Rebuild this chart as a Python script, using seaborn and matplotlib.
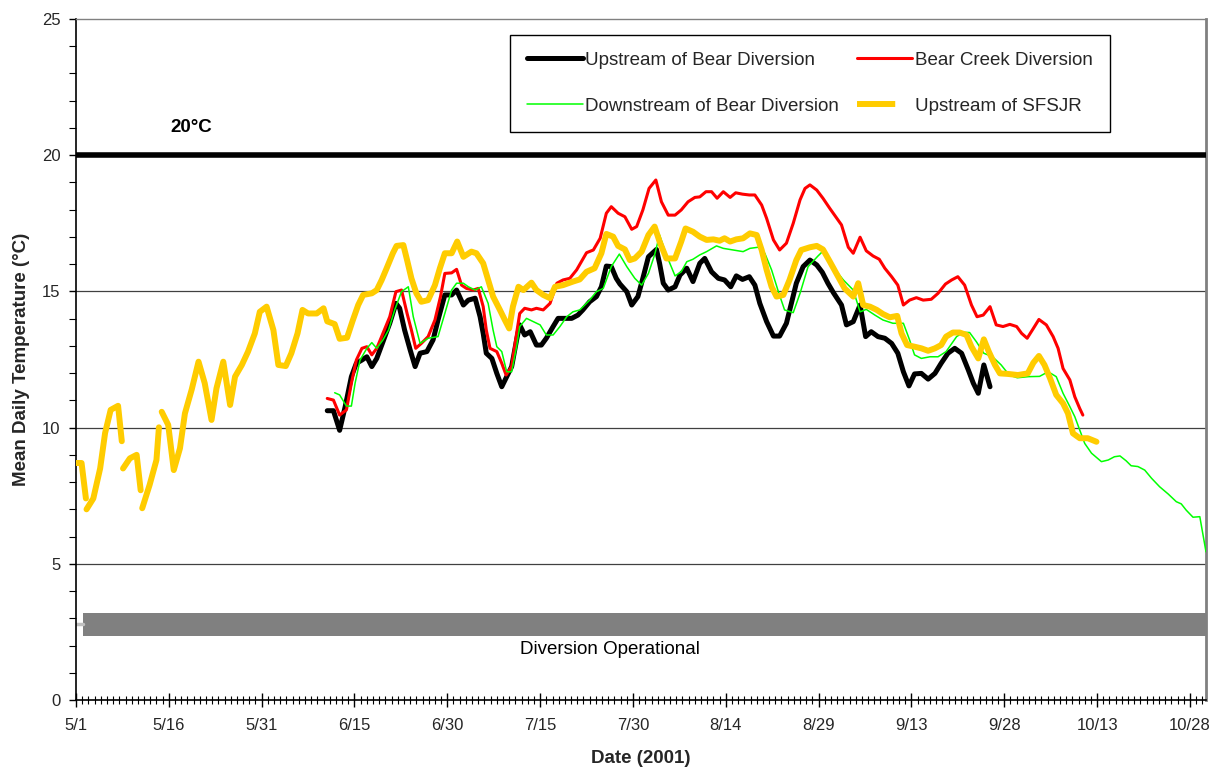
import numpy as np
import pandas as pd
import matplotlib
matplotlib.use("Agg")
import matplotlib.pyplot as plt
import seaborn as sns
from matplotlib.lines import Line2D
from matplotlib.ticker import FixedLocator, MultipleLocator

# ---------------- data (day offsets from 5/1/2001) ----------------
tick_days = [0, 15, 30, 45, 60, 75, 90, 105, 120, 135, 150, 165, 180]
tick_labels = ["5/1", "5/16", "5/31", "6/15", "6/30", "7/15", "7/30",
               "8/14", "8/29", "9/13", "9/28", "10/13", "10/28"]

up_bear_days = [40.6, 41.6, 42.6, 43.5, 44.5, 45.3, 46.2, 47.0, 47.8, 48.6, 49.6, 50.7, 51.7, 52.3,
                53.1, 54.0, 54.8, 55.6, 56.7, 57.7, 58.5, 59.6, 60.7, 61.5, 62.6, 63.4, 64.5, 65.3,
                65.8, 66.3, 67.2, 68.0, 68.8, 69.6, 70.4, 71.2, 71.7, 72.5, 73.4, 74.4, 75.2, 76.0,
                77.1, 77.9, 79.0, 80.1, 81.1, 81.9, 83.0, 84.1, 84.9, 85.7, 86.5, 87.3, 87.9, 89.0,
                89.8, 90.8, 91.6, 92.5, 93.8, 94.3, 94.9, 95.7, 96.8, 97.6, 98.7, 99.7, 100.8, 101.6,
                102.7, 103.8, 104.8, 105.8, 106.7, 107.7, 108.8, 109.7, 110.5, 111.6, 112.7, 113.7,
                114.8, 115.6, 116.4, 117.5, 118.6, 119.7, 120.6, 121.5, 122.4, 123.7, 124.5, 125.6,
                126.7, 127.6, 128.5, 129.6, 130.7, 131.8, 132.8, 133.7, 134.6, 135.5, 136.6, 137.7,
                138.8, 139.8, 140.9, 142.0, 143.1, 144.2, 145.0, 145.8, 146.7, 147.7]
up_bear_temp = [10.62, 10.62, 9.9, 10.77, 11.87, 12.36, 12.48, 12.60, 12.24, 12.54, 13.15, 13.83, 14.56, 14.38,
                13.58, 12.85, 12.24, 12.73, 12.79, 13.22, 13.95, 14.87, 14.87, 15.05, 14.50, 14.68, 14.75, 14.07,
                13.46, 12.73, 12.54, 11.99, 11.50, 11.87, 12.24, 13.22, 13.77, 13.40, 13.52, 13.03, 13.03, 13.28,
                13.71, 14.01, 14.01, 14.01, 14.13, 14.32, 14.62, 14.81, 15.17, 15.93, 15.91, 15.48, 15.27, 14.99,
                14.50, 14.81, 15.48, 16.27, 16.54, 16.03, 15.30, 15.05, 15.17, 15.60, 15.85, 15.36, 16.03, 16.21,
                15.72, 15.48, 15.42, 15.17, 15.57, 15.44, 15.54, 15.23, 14.56, 13.89, 13.36, 13.36,
                13.83, 14.56, 15.30, 15.91, 16.15, 15.97, 15.70, 15.30, 14.95, 14.50, 13.77, 13.89,
                14.50, 13.34, 13.52, 13.34, 13.28, 13.09, 12.73, 12.05, 11.53, 11.97, 11.99, 11.78,
                11.99, 12.36, 12.73, 12.91, 12.73, 12.11, 11.63, 11.26, 12.30, 11.50]

bear_creek_days = [40.6, 41.6, 42.6, 43.7, 44.5, 45.3, 46.2, 47.0, 47.8, 48.6, 49.6, 50.7, 51.7, 52.6,
                   53.5, 54.2, 54.9, 55.8, 56.9, 58.0, 58.9, 59.6, 60.7, 61.5, 62.3, 63.1, 64.2, 65.0,
                   65.8, 66.3, 66.9, 68.0, 68.8, 69.5, 70.4, 71.2, 71.7, 72.5, 73.6, 74.4, 75.5, 76.6,
                   77.7, 78.7, 79.8, 80.9, 82.5, 83.6, 84.7, 85.7, 86.5, 87.6, 88.7, 89.8, 90.6, 91.6,
                   92.6, 93.7, 94.6, 95.7, 96.8, 97.8, 98.9, 100.0, 100.8, 101.8, 102.7, 103.6, 104.6,
                   105.7, 106.6, 107.7, 108.8, 109.7, 110.8, 111.6, 112.7, 113.7, 114.8, 115.9, 117.0,
                   117.8, 118.6, 119.7, 120.7, 121.8, 123.7, 124.8, 125.6, 126.7, 127.7, 128.8, 129.8,
                   130.7, 131.8, 132.8, 133.7, 134.7, 135.8, 136.9, 138.2, 139.3, 140.5, 141.5, 142.5,
                   143.6, 144.7, 145.6, 146.6, 147.7, 148.7, 149.8, 150.9, 152.0, 152.8, 153.7, 154.7,
                   155.6, 156.8, 157.9, 158.7, 159.5, 160.6, 161.4, 162.2, 162.7]
bear_creek_temp = [11.07, 11.01, 10.46, 10.65, 11.63, 12.48, 12.91, 12.97, 12.67, 12.91, 13.46, 14.07, 14.99, 15.05,
                   14.19, 13.58, 12.91, 13.09, 13.34, 13.95, 14.81, 15.66, 15.68, 15.81, 15.23, 15.11, 15.05, 15.11,
                   14.44, 13.58, 12.91, 12.79, 12.36, 11.93, 12.24, 13.46, 14.19, 14.38, 14.32, 14.38, 14.32, 14.56,
                   15.30, 15.42, 15.48, 15.79, 16.42, 16.52, 16.95, 17.87, 18.11, 17.87, 17.74, 17.28, 17.38, 17.99,
                   18.78, 19.09, 18.29, 17.80, 17.80, 17.99, 18.29, 18.45, 18.47, 18.66, 18.66, 18.42, 18.66,
                   18.45, 18.62, 18.57, 18.54, 18.54, 18.17, 17.68, 16.89, 16.52, 16.77, 17.50, 18.36,
                   18.78, 18.91, 18.72, 18.42, 18.05, 17.44, 16.62, 16.40, 16.99, 16.49, 16.30, 16.18,
                   15.85, 15.54, 15.23, 14.50, 14.68, 14.77, 14.68, 14.71, 14.93, 15.27, 15.42, 15.54,
                   15.23, 14.50, 14.07, 14.13, 14.44, 13.77, 13.71, 13.79, 13.71, 13.46, 13.28, 13.64,
                   13.97, 13.77, 13.34, 12.91, 12.17, 11.75, 11.13, 10.70, 10.46]

down_bear_days = [41.8, 42.6, 43.7, 44.5, 45.1, 45.9, 47.0, 47.8, 48.6, 49.6, 50.5, 51.5, 52.6, 53.7,
                  54.5, 55.6, 56.9, 57.7, 58.5, 59.6, 60.7, 61.5, 62.6, 63.4, 64.5, 65.5, 66.6, 67.4,
                  68.0, 68.8, 69.6, 70.4, 71.2, 71.7, 72.8, 73.9, 75.0, 76.0, 77.1, 78.2, 79.3, 80.3,
                  81.4, 83.0, 84.1, 85.2, 86.5, 87.8, 89.0, 90.3, 91.4, 92.5, 93.5, 94.3, 95.4, 96.8,
                  97.8, 98.7, 99.7, 100.8, 101.9, 103.5, 104.6, 106.2, 107.8, 108.9, 110.2, 111.3,
                  112.4, 113.5, 114.5, 115.9, 117.0, 118.3, 119.9, 120.8, 122.3, 124.0, 125.6, 126.7,
                  127.7, 129.1, 130.4, 132.0, 133.7, 134.7, 135.5, 136.6, 138.0, 139.3, 140.6, 142.3,
                  143.4, 144.4, 145.5, 146.7, 148.1, 149.5, 150.8, 152.1, 153.9, 155.7, 157.1, 158.4,
                  159.5, 160.6, 161.4, 162.2, 163.0, 164.1, 165.7, 166.8, 167.8, 168.7, 169.7, 170.5,
                  171.6, 172.7, 173.8, 175.1, 176.5, 177.8, 178.6, 179.4, 180.5, 181.6, 182.6]
down_bear_temp = [11.28, 11.20, 10.79, 10.79, 11.63, 12.48, 12.91, 13.12, 12.91, 13.22, 13.58, 14.32, 14.99, 15.17,
                  14.07, 13.09, 13.28, 13.31, 13.34, 14.19, 15.05, 15.30, 15.30, 15.17, 15.05, 15.17, 14.56, 13.58,
                  12.97, 12.79, 12.05, 12.05, 12.97, 13.71, 14.01, 13.89, 13.77, 13.40, 13.40, 13.71, 14.07, 14.25,
                  14.32, 14.68, 14.99, 15.11, 15.91, 16.37, 15.91, 15.48, 15.23, 15.66, 16.34, 17.07, 16.34, 15.57,
                  15.72, 16.09, 16.18, 16.34, 16.46, 16.67, 16.58, 16.52, 16.46, 16.58, 16.62, 16.40,
                  15.79, 14.99, 14.32, 14.22, 14.93, 15.91, 16.30, 16.50, 15.91, 15.42, 15.05, 14.25,
                  14.34, 14.13, 13.95, 13.83, 13.83, 13.22, 12.67, 12.54, 12.60, 12.60, 12.79, 13.34,
                  13.50, 13.49, 13.15, 12.73, 12.60, 12.30, 11.93, 11.83, 11.87, 11.88, 12.05, 11.87,
                  11.26, 10.77, 10.40, 9.91, 9.42, 9.06, 8.75, 8.81, 8.93, 8.96, 8.78, 8.60,
                  8.57, 8.44, 8.14, 7.83, 7.56, 7.28, 7.20, 6.97, 6.71, 6.73, 5.44]

sfsjr_days = [0, 0.9, 1.6,
              1.7, 2.8, 3.9, 4.7, 5.6, 6.8, 7.4,
              7.6, 8.7, 9.8, 10.45,
              10.7, 11.9, 13.0, 13.4,
              13.85, 14.9, 15.8, 16.8, 17.6, 18.7, 19.8, 20.8, 21.9, 22.7, 23.8, 24.9, 25.7, 26.8,
              27.8, 28.9, 29.7, 30.8, 31.9, 32.7, 33.9, 34.8, 35.8, 36.6, 37.5, 38.9, 40.0, 40.6,
              41.8, 42.6, 43.8, 44.7, 45.6, 46.4, 47.8, 48.6, 49.4, 50.2, 51.2, 51.8, 52.9, 53.5,
              54.2, 55.0, 55.8, 56.9, 58.0, 58.8, 59.6, 60.7, 61.6, 62.6, 63.9, 64.7, 65.8, 66.6,
              67.4, 68.5, 69.3, 70.0, 70.6, 71.5, 72.3, 73.6, 74.4, 75.5, 76.6, 77.4, 78.7, 80.3,
              81.4, 82.5, 83.8, 84.9, 85.7, 86.8, 87.6, 88.7, 89.5, 90.3, 91.4, 92.5, 93.5, 94.3,
              95.4, 96.8, 97.8, 98.5, 99.7, 100.8, 101.9, 103.0, 104.0, 104.8, 105.7, 106.7, 107.8,
              108.9, 110.0, 110.8, 111.6, 112.4, 113.2, 114.3, 115.3, 116.4, 117.2, 118.6, 119.7,
              120.7, 121.8, 122.9, 124.2, 125.6, 126.4, 127.2, 128.3, 129.4, 130.4, 131.5, 132.7,
              133.4, 134.3, 135.5, 136.6, 137.7, 138.8, 139.8, 140.6, 141.7, 142.8, 143.9, 144.7,
              145.8, 146.7, 147.5, 148.5, 149.3, 150.6, 152.2, 153.8, 154.7, 155.6, 156.5, 157.4,
              158.4, 159.5, 160.3, 161.1, 162.2, 163.5, 164.9]
sfsjr_temp = [8.7, 8.7, 7.4,
              7.0, 7.4, 8.5, 9.8, 10.65, 10.8, 9.5,
              8.5, 8.87, 9.0, 7.7,
              7.04, 7.9, 8.81, 10.01,
              10.58, 10.1, 8.44, 9.24, 10.52, 11.4, 12.42, 11.63, 10.28, 11.44, 12.42, 10.83, 11.87, 12.30,
              12.79, 13.46, 14.25, 14.44, 13.58, 12.30, 12.26, 12.73, 13.46, 14.32, 14.19, 14.19, 14.38, 13.90,
              13.80, 13.26, 13.30, 13.92, 14.50, 14.87, 14.93, 15.05, 15.42, 15.85, 16.40, 16.67, 16.70, 16.15,
              15.48, 14.93, 14.62, 14.68, 15.23, 15.85, 16.40, 16.40, 16.83, 16.27, 16.46, 16.40, 16.03, 15.42,
              14.81, 14.32, 13.95, 13.64, 14.44, 15.17, 15.05, 15.32, 15.05, 14.87, 14.75, 15.17, 15.23, 15.36,
              15.44, 15.72, 15.85, 16.40, 17.11, 17.01, 16.67, 16.54, 16.15, 16.21, 16.46, 17.07, 17.38, 16.83,
              16.21, 16.21, 16.83, 17.31, 17.19, 17.01, 16.89, 16.91, 16.86, 16.95, 16.83, 16.91, 16.95,
              17.13, 17.07, 16.52, 15.79, 15.17, 14.81, 14.87, 15.42, 16.15, 16.52, 16.62, 16.67,
              16.54, 16.10, 15.65, 15.11, 14.81, 15.30, 14.50, 14.44, 14.32, 14.17, 14.05, 14.10,
              13.46, 13.03, 12.97, 12.91, 12.82, 12.91, 13.03, 13.34, 13.49, 13.49, 13.40, 12.97,
              12.54, 13.24, 12.79, 12.30, 11.99, 11.97, 11.93, 11.99, 12.38, 12.63, 12.30, 11.81,
              11.20, 10.89, 10.52, 9.79, 9.61, 9.61, 9.48]
sfsjr_seg = [0] * 3 + [1] * 7 + [2] * 4 + [3] * 4 + [4] * (len(sfsjr_days) - 18)

threshold = 20
threshold_label = "20°C"
diversion_label = "Diversion Operational"
diversion_start, diversion_end = 1.1, 182.6
diversion_low, diversion_high = 2.35, 3.2

series_names = ["Upstream of Bear Diversion", "Bear Creek Diversion",
                "Downstream of Bear Diversion", "Upstream of SFSJR"]

# ---------------- figure ----------------
sns.set_theme(style="white")
plt.rcParams["font.family"] = ["Liberation Sans", "DejaVu Sans"]

fig = plt.figure(figsize=(12.14, 7.67), dpi=100)
ax = fig.add_axes([76 / 1214, 1 - 700 / 767, (1206 - 76) / 1214, (700 - 19) / 767])

ax.set_xlim(0, 182.6)
ax.set_ylim(0, 25)

# gridlines
for yv in [5, 10, 15]:
    ax.axhline(yv, color="#404040", lw=0.9, zorder=1)

# diversion bar
ax.fill_between([diversion_start, diversion_end], diversion_low, diversion_high,
                color="#808080", lw=0, zorder=2)
ax.plot([0, diversion_start], [(diversion_low + diversion_high) / 2] * 2,
        color="#c0c0c0", lw=2.5, zorder=2)
ax.text(86.3, 1.87, diversion_label, ha="center", va="center",
        fontsize=13.5, color="black")

# threshold
ax.axhline(threshold, color="black", lw=4, zorder=3)
ax.text(18.6, 21.0, threshold_label, ha="center", va="center", fontsize=13.5,
        fontweight="bold", color="black")

colors = ["black", "#FF0000", "#00FF00", "#FFCC00"]
widths = [3.6, 2.2, 1.1, 4.3]

sns.lineplot(x=up_bear_days, y=up_bear_temp, ax=ax, color=colors[0], lw=widths[0],
             estimator=None, sort=False, legend=False, zorder=4)
sns.lineplot(x=bear_creek_days, y=bear_creek_temp, ax=ax, color=colors[1], lw=widths[1],
             estimator=None, sort=False, legend=False, zorder=5)
sns.lineplot(x=down_bear_days, y=down_bear_temp, ax=ax, color=colors[2], lw=widths[2],
             estimator=None, sort=False, legend=False, zorder=6)
df_y = pd.DataFrame({"day": sfsjr_days, "temp": sfsjr_temp, "seg": sfsjr_seg})
sns.lineplot(data=df_y, x="day", y="temp", units="seg", ax=ax, color=colors[3], lw=widths[3],
             estimator=None, sort=False, legend=False, zorder=7)

# axes styling
ax.xaxis.set_major_locator(FixedLocator(tick_days))
ax.set_xticklabels(tick_labels)
ax.xaxis.set_minor_locator(MultipleLocator(1))
ax.yaxis.set_major_locator(MultipleLocator(5))
ax.yaxis.set_minor_locator(MultipleLocator(1))
ax.tick_params(axis="x", which="major", direction="inout", length=10, width=1,
               color="black", labelsize=12, pad=8, bottom=True)
ax.tick_params(axis="x", which="minor", direction="inout", length=6, width=0.8,
               color="black", bottom=True)
ax.tick_params(axis="y", which="major", direction="out", length=5, width=1,
               color="black", labelsize=12, pad=6, left=True)
ax.tick_params(axis="y", which="minor", direction="out", length=5, width=0.8,
               color="black", left=True)

ax.set_xlabel("Date (2001)", fontsize=13.5, fontweight="bold", labelpad=12)
ax.set_ylabel("Mean Daily Temperature (°C)", fontsize=13.5, fontweight="bold", labelpad=9)

for side in ["left", "bottom"]:
    ax.spines[side].set_color("black")
    ax.spines[side].set_linewidth(1.2)
ax.spines["top"].set_color("#808080")
ax.spines["top"].set_linewidth(1)
ax.spines["right"].set_color("#808080")
ax.spines["right"].set_linewidth(2)
ax.grid(False)

handles = [Line2D([], [], color=colors[0], lw=widths[0], solid_capstyle="round"),
           Line2D([], [], color=colors[1], lw=widths[1]),
           Line2D([], [], color=colors[2], lw=widths[2]),
           Line2D([], [], color=colors[3], lw=widths[3], linestyle=(0, (6.4, 10)),
                  dash_capstyle="butt")]
order = [0, 2, 1, 3]
leg = ax.legend([handles[i] for i in order], [series_names[i] for i in order],
                ncol=2, loc="upper right", bbox_to_anchor=(0.915, 0.977),
                fontsize=13.5, frameon=True, fancybox=False, framealpha=1,
                edgecolor="black", handlelength=2.95, handletextpad=0.15,
                labelspacing=1.55, columnspacing=0.95, borderpad=0.9, borderaxespad=0)
leg.get_frame().set_linewidth(1)

fig.savefig("out.png", dpi=100)
